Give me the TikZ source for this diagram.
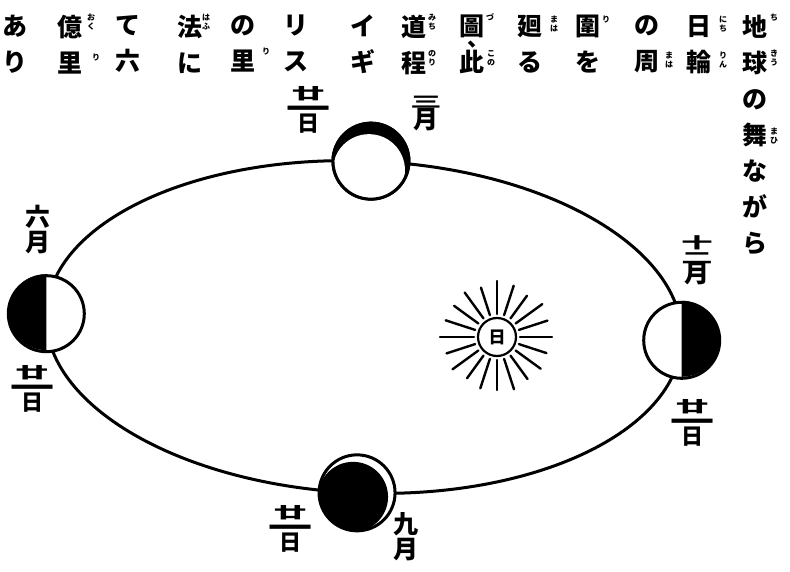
\documentclass[tikz,border=0pt]{standalone}
\usepackage{fontspec}
\usepackage{graphicx}
\usetikzlibrary{calc}

\newfontfamily\jp{Noto Sans CJK JP}

% squashed glyph for stacked month and day numerals
\newcommand{\squash}[2][0.6]{\scalebox{1.25}[#1]{#2}}
\newcommand{\nijuichi}{\scalebox{1.5}[0.7]{廿}\\[-3pt]\scalebox{2}[1.2]{一}\\[-9pt]日}

\tikzset{
  tate/.style = {anchor=north, inner sep=0pt, align=center, font=\jp\bfseries\fontsize{25}{36}\selectfont},
  ruby/.style = {anchor=north, inner sep=0pt, align=center, font=\jp\bfseries\fontsize{8}{9}\selectfont},
  tsuki/.style = {inner sep=0pt, align=center, font=\jp\bfseries\fontsize{25}{28}\selectfont},
  hizuke/.style = {inner sep=0pt, align=center, font=\jp\bfseries\fontsize{22}{22}\selectfont},
  chikyu/.style = {circle, draw, line width=3pt, fill=white, minimum size=76pt, inner sep=0pt},
  kido/.style = {line width=3pt},
  hikari/.style = {line width=2.4pt, line cap=round}
}

\begin{document}
\begin{tikzpicture}[x=1pt, y=1pt]
\useasboundingbox (0,0) rectangle (790,-572);

% heading, written top to bottom, columns right to left
\node[tate] (g1) at (755,-15) {地\\球\\の\\舞\\な\\が\\ら};
\node[tate] (g2) at (699,-15) {日\\輪};
\node[tate] (g3) at (647,-15) {の\\周};
\node[tate] (g4) at (588,-15) {圍\\を};
\node[tate] (g5) at (530,-15) {廻\\る};
\node[tate] (g6) at (472,-15) {圖\\此};
\node[tate] (g7) at (414,-15) {道\\程};
\node[tate] (g8) at (363,-15) {イ\\ギ};
\node[tate] (g9) at (296,-15) {リ\\ス};
\node[tate] (g10) at (243,-15) {の\\里};
\node[tate] (g11) at (190,-15) {法\\に};
\node[tate] (g12) at (128,-15) {て\\六};
\node[tate] (g13) at (70,-15) {億\\里};
\node[tate] (g14) at (15,-15) {あ\\り};
\node[inner sep=0pt, font=\jp\bfseries\fontsize{22}{22}\selectfont] (ten) at (478,-45) {、};

% readings
\node[ruby] (r1) at (774,-14) {ち};
\node[ruby] (r2) at (774,-50) {き\\う};
\node[ruby] (r3) at (774,-128) {ま\\ひ};
\node[ruby] (r4) at (723,-16) {に\\ち};
\node[ruby] (r5) at (723,-52) {り\\ん};
\node[ruby] (r6) at (669,-52) {ま\\は};
\node[ruby] (r7) at (606,-16) {り};
\node[ruby] (r8) at (554,-16) {ま\\は};
\node[ruby] (r9) at (490,-13) {づ};
\node[ruby] (r10) at (491,-50) {こ\\の};
\node[ruby] (r11) at (432,-14) {み\\ち};
\node[ruby] (r12) at (432,-50) {の\\り};
\node[ruby] (r13) at (266,-48) {り};
\node[ruby] (r14) at (206,-14) {は\\ふ};
\node[ruby] (r15) at (91,-14) {お\\く};
\node[ruby] (r16) at (96,-54) {り};

% orbit and the earth at four seasons
\begin{scope}[shift={(364,-327)}, rotate=-2.4]
  \draw[kido] (0,0) ellipse [x radius=318, y radius=166];
  \node[chikyu] (haru) at (90:318 and 166) {};
  \node[chikyu] (natsu) at (180:318 and 166) {};
  \node[chikyu] (aki) at (270:318 and 166) {};
  \node[chikyu] (fuyu) at (0:318 and 166) {};
\end{scope}

% shadows
\begin{scope}
  \clip (haru) circle (38);
  \fill (haru) circle (38);
  \fill[white] ($(haru)+(-2,-9)$) circle (36);
\end{scope}
\draw[kido] (haru) circle (38);
\fill (natsu.north) arc[start angle=90, end angle=270, radius=38] -- cycle;
\fill (fuyu.north) arc[start angle=90, end angle=-90, radius=38] -- cycle;
\begin{scope}
  \clip (aki) circle (38);
  \fill ($(aki)+(-4,-4)$) circle (35);
\end{scope}

% the sun
\node[circle, draw, line width=2.2pt, minimum size=38pt, inner sep=0pt,
      font=\jp\bfseries\fontsize{17}{17}\selectfont] (hi) at (497,-337) {日};
\foreach \a/\l in {0/32, 18/30, 36/33, 54/28, 72/31, 90/33, 108/29, 126/32, 144/30, 162/31,
                   180/34, 198/30, 216/32, 234/28, 252/31, 270/30, 288/32, 306/29, 324/31, 342/29}
  \draw[hikari] (hi) ++(\a:23) -- ++(\a:\l);

% months and days
\node[tsuki] (m3) at (426,-113) {\squash{三}\\[-7pt]月};
\node[hizuke] (d3) at (308,-110) {\nijuichi};
\node[tsuki] (m6) at (38,-230) {六\\[-3pt]月};
\node[hizuke] (d6) at (32,-389) {\nijuichi};
\node[tsuki] (m12) at (697,-260) {\squash{十}\\[-13pt]\squash{二}\\[-9pt]月};
\node[hizuke] (d12) at (692,-423) {\nijuichi};
\node[hizuke] (d9) at (290,-529) {\nijuichi};
\node[tsuki] (m9) at (406,-537) {九\\[-3pt]月};
\end{tikzpicture}
\end{document}
